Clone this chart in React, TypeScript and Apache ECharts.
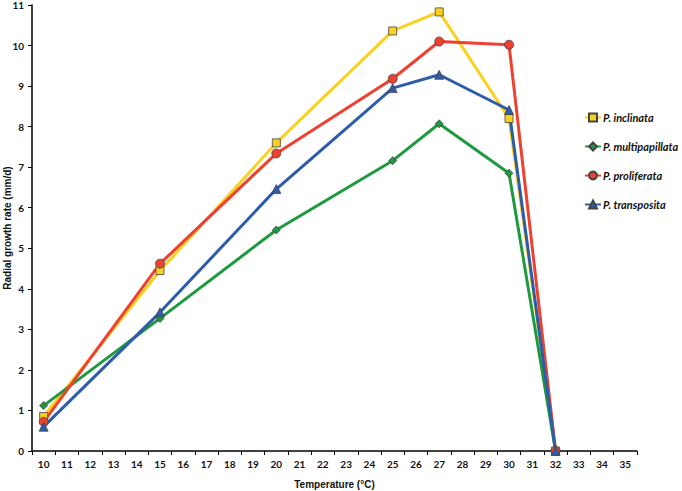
import React, { useEffect, useRef } from "react";
import * as echarts from "echarts";

const categories = Array.from({ length: 26 }, (_, i) => String(10 + i));
const temps = ["10", "15", "20", "25", "27", "30", "32"];
const inclinata = [0.85, 4.45, 7.6, 10.36, 10.83, 8.2, 0];
const multipapillata = [1.12, 3.27, 5.45, 7.16, 8.07, 6.85, 0];
const proliferata = [0.72, 4.62, 7.34, 9.18, 10.1, 10.02, 0];
const transposita = [0.6, 3.42, 6.46, 8.95, 9.28, 8.41, 0];

const seriesDefs = [
  { name: "P. inclinata", values: inclinata, color: "#FAD11F", symbol: "rect", size: 8 },
  { name: "P. multipapillata", values: multipapillata, color: "#1D9A40", symbol: "diamond", size: 8 },
  { name: "P. proliferata", values: proliferata, color: "#EE4130", symbol: "circle", size: 9 },
  { name: "P. transposita", values: transposita, color: "#2D5DAA", symbol: "triangle", size: 9 },
];

export default function App() {
  const ref = useRef<HTMLDivElement>(null);
  useEffect(() => {
    if (!ref.current) return;
    const chart = echarts.init(ref.current, null, { renderer: "svg" });
    chart.setOption({
      animation: false,
      backgroundColor: "#ffffff",
      grid: { left: 32, top: 5, right: 45, bottom: 40, containLabel: false, outerBoundsMode: "none" },
      legend: {
        orient: "vertical",
        left: 579,
        top: 107,
        itemGap: 18,
        itemWidth: 16,
        itemHeight: 10,
        textStyle: {
          fontFamily: "Lato",
          fontStyle: "italic",
          fontWeight: "bold",
          fontSize: 11,
          color: "#111",
          padding: [0, 0, 0, -3],
        },
        data: seriesDefs.map((s) => s.name),
      },
      xAxis: {
        type: "category",
        data: categories,
        boundaryGap: true,
        name: "Temperature (°C)",
        nameLocation: "middle",
        nameGap: 28,
        nameMoveOverlap: false,
        nameTextStyle: { fontFamily: "Liberation Sans", fontWeight: "bold", fontSize: 10, color: "#111" },
        axisLine: { lineStyle: { color: "#000", width: 1.5 } },
        axisTick: { show: true, alignWithLabel: false, length: 4, lineStyle: { color: "#000" } },
        axisLabel: { fontFamily: "Lato", fontWeight: "bold", fontSize: 10, color: "#111", margin: 8, interval: 0 },
        splitLine: { show: false },
      },
      yAxis: {
        type: "value",
        min: 0,
        max: 11,
        interval: 1,
        name: "Radial growth rate (mm/d)",
        nameLocation: "middle",
        nameGap: 20,
        nameMoveOverlap: false,
        nameTextStyle: { fontFamily: "Liberation Sans", fontWeight: "bold", fontSize: 10, color: "#111" },
        axisLine: { show: true, lineStyle: { color: "#000", width: 1.5 } },
        axisTick: { show: true, length: 4, lineStyle: { color: "#000" } },
        axisLabel: { fontFamily: "Lato", fontWeight: "bold", fontSize: 10, color: "#111", margin: 8 },
        splitLine: { show: false },
      },
      series: seriesDefs.map((s) => ({
        name: s.name,
        type: "line",
        data: temps.map((t, i) => [t, s.values[i]]),
        symbol: s.symbol,
        symbolSize: s.size,
        showAllSymbol: true,
        lineStyle: { color: s.color, width: 3 },
        itemStyle: { color: s.color, borderColor: "#444", borderWidth: 0.8 },
        emphasis: { disabled: true },
      })),
    });
    return () => chart.dispose();
  }, []);
  return <div ref={ref} style={{ width: 682, height: 491, position: "absolute", left: 0, top: 0 }} />;
}
